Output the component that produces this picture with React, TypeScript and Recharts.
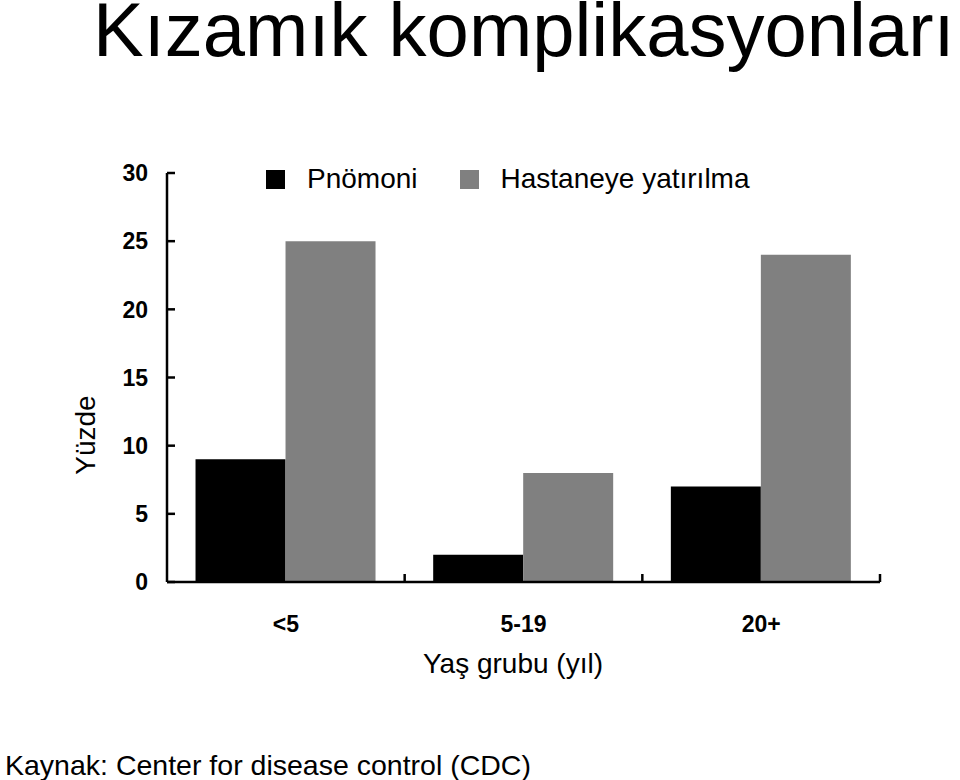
import React from 'react';
import { BarChart, Bar, XAxis, YAxis, Legend } from 'recharts';

const ageGroups = ['<5', '5-19', '20+'];
const pneumonia = [9, 2, 7];
const hospitalized = [25, 8, 24];
const yTicks = [0, 5, 10, 15, 20, 25, 30];
const seriesOrder = ['pneumonia', 'hospitalized'];

const data = ageGroups.map((group, i) => ({
  group,
  pneumonia: pneumonia[i],
  hospitalized: hospitalized[i],
}));

const FONT = '"Liberation Sans", Arial, Helvetica, sans-serif';

// y ticks point inward (to the right of the axis)
const YTick = (props: any) => {
  const { x, y, payload } = props;
  return (
    <g>
      <line x1={x} x2={x + 8} y1={y} y2={y} stroke="#000" strokeWidth={2.5} />
      <text x={x - 19} y={y} dy="0.36em" textAnchor="end" fontFamily={FONT} fontWeight="bold" fontSize={23} fill="#000">
        {payload.value}
      </text>
    </g>
  );
};

// x ticks sit on the category boundaries and point up
const XTick = (props: any) => {
  const { x, y, payload } = props;
  const half = payload.offset ?? 0;
  return (
    <g>
      <line x1={x + half} x2={x + half} y1={y} y2={y - 8} stroke="#000" strokeWidth={2.5} />
      <text x={x} y={y + 50} textAnchor="middle" fontFamily={FONT} fontWeight="bold" fontSize={23} fill="#000">
        {payload.value}
      </text>
    </g>
  );
};

const renderLegend = (props: any) => {
  const items = [...props.payload].sort(
    (a: any, b: any) => seriesOrder.indexOf(a.dataKey) - seriesOrder.indexOf(b.dataKey)
  );
  return (
    <div style={{ display: 'flex', alignItems: 'center', fontFamily: FONT, fontSize: 28, color: '#000', whiteSpace: 'nowrap' }}>
      {items.map((e: any, i: number) => (
        <div key={i} style={{ display: 'flex', alignItems: 'center', marginRight: 42 }}>
          <span style={{ display: 'inline-block', width: 19, height: 19, background: e.color, marginRight: 22 }} />
          <span>{e.value}</span>
        </div>
      ))}
    </div>
  );
};

export default function App() {
  return (
    <div style={{ position: 'absolute', left: 0, top: 0, width: 960, height: 780, background: '#fff' }}>
      <BarChart
        width={960}
        height={780}
        data={data}
        margin={{ top: 173, right: 80, left: 107, bottom: 138 }}
        barCategoryGap="12%"
        barGap={0}
      >
        <XAxis
          dataKey="group"
          height={60}
          axisLine={{ stroke: '#000', strokeWidth: 2.5 }}
          tickLine={false}
          tickSize={0}
          tickMargin={0}
          tick={<XTick />}
          interval={0}
        />
        <YAxis
          width={60}
          domain={[0, 30]}
          ticks={yTicks}
          axisLine={{ stroke: '#000', strokeWidth: 2.5 }}
          tickLine={false}
          tickSize={0}
          tickMargin={0}
          tick={<YTick />}
          interval={0}
        />
        <Legend
          layout="horizontal"
          verticalAlign="middle"
          align="center"
          content={renderLegend}
          wrapperStyle={{ top: 163, left: 266, width: 'auto' }}
        />
        <Bar dataKey="pneumonia" name="Pnömoni" fill="#000000" isAnimationActive={false} />
        <Bar dataKey="hospitalized" name="Hastaneye yatırılma" fill="#808080" isAnimationActive={false} />
      </BarChart>
      <svg width={960} height={780} style={{ position: 'absolute', left: 0, top: 0, pointerEvents: 'none' }}>
        <text x={93} y={56} fontFamily={FONT} fontSize={76} fill="#000">Kızamık komplikasyonları</text>
        <text x={95} y={435} transform="rotate(-90 95 435)" textAnchor="middle" fontFamily={FONT} fontSize={28} fill="#000">Yüzde</text>
        <text x={513} y={673} textAnchor="middle" fontFamily={FONT} fontSize={28} fill="#000">Yaş grubu (yıl)</text>
        <text x={5} y={775} fontFamily={FONT} fontSize={28.5} fill="#000">Kaynak: Center for disease control (CDC)</text>
      </svg>
    </div>
  );
}
